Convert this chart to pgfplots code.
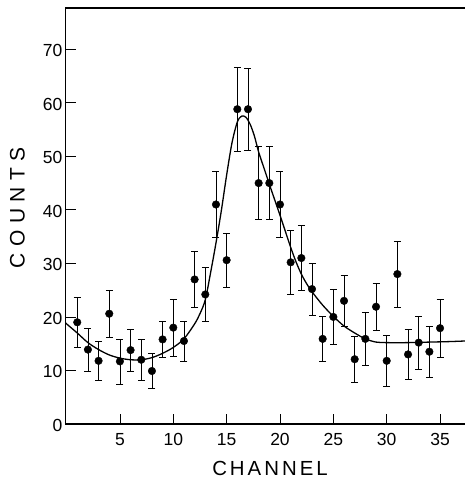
\documentclass[border=0pt]{standalone}
\usepackage{fontspec}
\setmainfont{Liberation Sans}
\usepackage{pgfplots}
\usepackage{pgfplotstable}
\pgfplotsset{compat=1.18}

% channel, counts, error
\pgfplotstableread{
x  y    e
1  19.0 4.6
2  13.9 4.0
3  11.8 3.7
4  20.6 4.4
5  11.7 4.2
6  13.8 3.9
7  12.0 3.8
8  9.9  3.3
9  15.8 3.3
10 18.0 5.3
11 15.5 3.7
12 27.0 5.2
13 24.2 5.1
14 41.0 6.2
15 30.6 5.1
16 58.8 7.8
17 58.8 7.7
18 45.0 6.8
19 45.0 6.8
20 41.0 6.2
21 30.2 5.9
22 31.0 6.1
23 25.2 4.9
24 15.9 4.2
25 20.0 5.2
26 23.0 4.8
27 12.1 4.3
28 15.9 4.9
29 21.9 4.4
30 11.8 4.7
31 28.0 6.2
32 13.0 4.7
33 15.2 5.0
34 13.5 4.7
35 17.9 5.4
}\countsdata

\begin{document}
\begin{tikzpicture}
\useasboundingbox (-65.5pt,-55pt) rectangle (399.5pt,424pt);
\begin{axis}[
  scale only axis,
  width=411.9pt, height=416pt,
  xmin=-0.1, xmax=38.5,
  ymin=0, ymax=77.7,
  xtick={5,10,...,35},
  ytick={0,10,...,70},
  xtick pos=bottom, ytick pos=left,
  tick align=inside,
  major tick length=10pt,
  axis line style={line width=1.1pt},
  tick style={line width=0.8pt, black},
  /pgf/number format/assume math mode=true,
  tick label style={font=\fontsize{17.5}{17.5}\selectfont},
  yticklabel style={inner sep=0pt, xshift=-3pt, yshift=-1.5pt},
  xticklabel style={inner sep=0pt, yshift=-9pt},
  every axis x label/.style={at={(rel axis cs:0.4965,0)}, anchor=base, yshift=-51.5pt},
  every axis y label/.style={at={(rel axis cs:0,0.52)}, anchor=center, rotate=90, yshift=48pt},
  xlabel={\fontsize{20.4}{20.4}\selectfont C\kern3pt H\kern3pt A\kern3pt N\kern3pt N\kern3pt E\kern3pt L},
  ylabel={\fontsize{21}{21}\selectfont C\kern6.5pt O\kern6.5pt U\kern6.5pt N\kern6.5pt T\kern6.5pt S},
]
\addplot[black, line width=1.3pt, smooth, no marks] coordinates {
(-0.1,18.9) (0,18.7) (1,17.0) (2,15.2) (3,13.9) (4,12.9) (5,12.3) (6,12.0)
(7,12.0) (8,12.4) (9,13.2) (10,14.3) (11,15.9) (12,18.7) (12.5,20.6)
(13,23.2) (13.5,28.3) (14,33.8) (14.5,39.8) (15,46.5) (15.5,52.5)
(16,56.4) (16.4,57.5) (16.8,57.3) (17.2,56.0) (17.6,53.8) (18,50.8)
(18.5,47.8) (19,44.8) (19.5,41.9) (20,39.0) (20.5,36.0) (21,33.0)
(21.5,30.3) (22,28.0) (22.5,26.2) (23,24.7) (24,22.2) (25,20.1)
(26,18.3) (27,17.0) (28,15.9) (29,15.3) (30,15.2) (32,15.2) (34,15.3)
(36,15.4) (38.5,15.6)
};
\addplot[black, only marks, mark=*, mark size=3.8pt,
  error bars/.cd, y dir=both, y explicit,
  error bar style={line width=0.6pt, black},
  error mark options={rotate=90, mark size=3.5pt, line width=0.6pt, black}]
  table[x=x, y=y, y error=e] {\countsdata};
\end{axis}
\end{tikzpicture}
\end{document}
